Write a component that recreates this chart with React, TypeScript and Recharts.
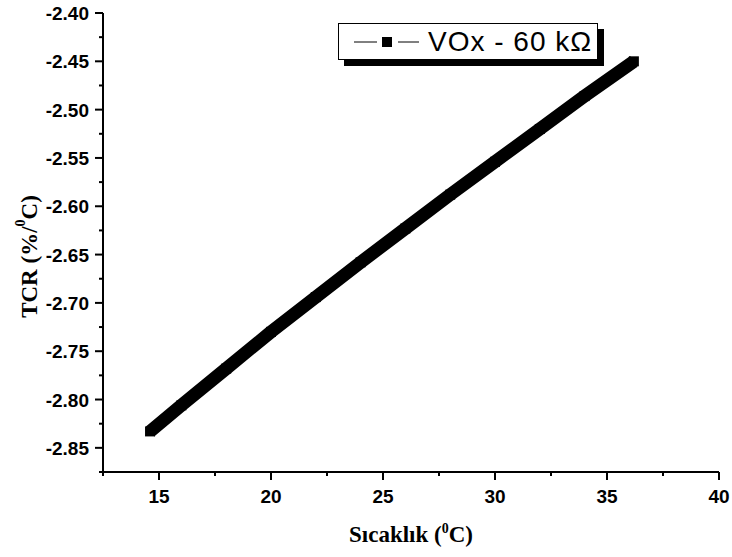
import { Label, Line, LineChart, XAxis, YAxis } from "recharts"

// temperature (°C) and TCR (%/°C)
const temperature = [14.6, 16, 18, 20, 22, 24, 26, 28, 30, 32, 34, 36.2]
const tcr = [-2.833, -2.806, -2.768, -2.73, -2.694, -2.658, -2.623, -2.588, -2.554, -2.52, -2.486, -2.45]

const xMajorTicks = [15, 20, 25, 30, 35, 40]
const xMinorTicks = [12.5, 17.5, 22.5, 27.5, 32.5, 37.5]
const yMajorTicks = [-2.85, -2.8, -2.75, -2.7, -2.65, -2.6, -2.55, -2.5, -2.45, -2.4]
const yMinorTicks = [-2.875, -2.825, -2.775, -2.725, -2.675, -2.625, -2.575, -2.525, -2.475, -2.425]

const seriesName = "VOx - 60 kΩ"

const X_DOMAIN: [number, number] = [12.5, 40]
const Y_DOMAIN: [number, number] = [-2.875, -2.4]

const SANS = "'Liberation Sans', Arial, sans-serif"
const SERIF = "'Liberation Serif', 'Times New Roman', serif"

const data = temperature.map((t, i) => ({ t, tcr: tcr[i] }))
const xTicks = [...xMajorTicks, ...xMinorTicks].sort((a, b) => a - b)
const yTicks = [...yMajorTicks, ...yMinorTicks].sort((a, b) => a - b)

const isMajorX = (v: number) => xMajorTicks.some((m) => Math.abs(m - v) < 1e-6)
const isMajorY = (v: number) => yMajorTicks.some((m) => Math.abs(m - v) < 1e-6)

function XTick({ x, y, payload }: any) {
  const major = isMajorX(payload.value)
  return (
    <g>
      <line x1={x} x2={x} y1={y} y2={y + (major ? 8 : 4)} stroke="#000" strokeWidth={2} />
      {major && (
        <text x={x} y={y + 31} textAnchor="middle" fontFamily={SANS} fontWeight="bold" fontSize={19} fill="#000">
          {payload.value}
        </text>
      )}
    </g>
  )
}

function YTick({ x, y, payload }: any) {
  const major = isMajorY(payload.value)
  return (
    <g>
      <line x1={x} x2={x - (major ? 8 : 4)} y1={y} y2={y} stroke="#000" strokeWidth={2} />
      {major && (
        <text x={x - 14} y={y + 7} textAnchor="end" fontFamily={SANS} fontWeight="bold" fontSize={19} fill="#000">
          {payload.value.toFixed(2)}
        </text>
      )}
    </g>
  )
}

function SquareDot({ cx, cy, index }: any) {
  return <rect key={index} x={cx - 5} y={cy - 5} width={10} height={10} fill="#000" />
}

function XTitle({ viewBox }: any) {
  const cx = viewBox.x + viewBox.width / 2
  return (
    <text x={cx} y={viewBox.y + 70} textAnchor="middle" fontFamily={SERIF} fontWeight="bold" fontSize={23} fill="#000">
      Sıcaklık (<tspan dy={-9} fontSize={14}>0</tspan>
      <tspan dy={9}>C)</tspan>
    </text>
  )
}

function YTitle({ viewBox }: any) {
  const cx = viewBox.x + 29
  const cy = viewBox.y + viewBox.height / 2 + 14
  return (
    <text
      x={cx}
      y={cy}
      transform={`rotate(-90, ${cx}, ${cy})`}
      textAnchor="middle"
      dominantBaseline="central"
      fontFamily={SERIF}
      fontWeight="bold"
      fontSize={23}
      fill="#000"
    >
      TCR (%/<tspan dy={-9} fontSize={14}>0</tspan>
      <tspan dy={9}>C)</tspan>
    </text>
  )
}

function LegendBox() {
  return (
    <div
      style={{
        position: "absolute",
        left: 338,
        top: 23,
        width: 260,
        height: 37,
        boxSizing: "border-box",
        border: "1.5px solid #000",
        background: "#fff",
        boxShadow: "6px 6px 0 #000",
        display: "flex",
        alignItems: "center",
      }}
    >
      <svg width={70} height={20} style={{ marginLeft: 14 }}>
        <line x1={1} x2={24} y1={10} y2={10} stroke="#000" strokeWidth={1} />
        <rect x={29} y={5} width={10} height={10} fill="#000" />
        <line x1={45} x2={66} y1={10} y2={10} stroke="#000" strokeWidth={1} />
      </svg>
      <span
        style={{ marginLeft: 5, fontFamily: SANS, fontSize: 28, letterSpacing: 1, color: "#000", whiteSpace: "nowrap" }}
      >
        {seriesName}
      </span>
    </div>
  )
}

export default function App() {
  return (
    <div style={{ position: "absolute", left: 0, top: 0, width: 732, height: 557, background: "#fff" }}>
      <LineChart width={732} height={557} data={data} margin={{ top: 13, right: 13, left: 0, bottom: 0 }}>
        <XAxis
          dataKey="t"
          type="number"
          domain={X_DOMAIN}
          ticks={xTicks}
          interval={0}
          height={85}
          tickSize={0}
          tickMargin={0}
          tick={<XTick />}
          axisLine={{ stroke: "#000", strokeWidth: 2 }}
          allowDataOverflow
        >
          <Label content={<XTitle />} />
        </XAxis>
        <XAxis
          xAxisId="top"
          orientation="top"
          type="number"
          domain={X_DOMAIN}
          height={0}
          tick={false}
          tickLine={false}
          axisLine={{ stroke: "#000", strokeWidth: 2 }}
        />
        <YAxis
          type="number"
          domain={Y_DOMAIN}
          ticks={yTicks}
          interval={0}
          width={103}
          tickSize={0}
          tickMargin={0}
          tick={<YTick />}
          axisLine={{ stroke: "#000", strokeWidth: 2 }}
          allowDataOverflow
        >
          <Label content={<YTitle />} />
        </YAxis>
        <YAxis
          yAxisId="right"
          orientation="right"
          type="number"
          domain={Y_DOMAIN}
          width={0}
          tick={false}
          tickLine={false}
          axisLine={{ stroke: "#000", strokeWidth: 2 }}
        />
        <Line
          dataKey="tcr"
          name={seriesName}
          type="linear"
          stroke="#000"
          strokeWidth={13}
          strokeLinecap="butt"
          strokeLinejoin="round"
          dot={<SquareDot />}
          activeDot={false}
          isAnimationActive={false}
        />
      </LineChart>
      <LegendBox />
    </div>
  )
}
